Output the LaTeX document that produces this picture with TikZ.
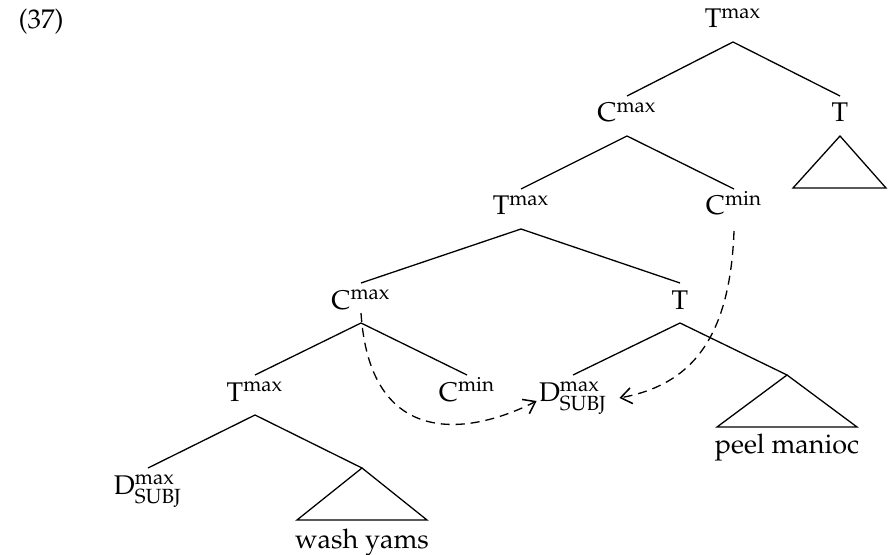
\documentclass[tikz,border=0pt]{standalone}
\usepackage[T1]{fontenc}
\usepackage{mathpazo}
\usetikzlibrary{arrows.meta,calc}
\begin{document}
\begin{tikzpicture}[x=0.5pt,y=-0.5pt,
  font=\fontsize{13.5}{16}\selectfont,
  lab/.style={anchor=base,inner sep=0pt},
  br/.style={line width=0.65pt},
  mv/.style={line width=0.65pt,dash pattern=on 4.5pt off 3pt,-{Straight Barb[length=5.5pt,width=8pt,line width=0.75pt]}}]
\useasboundingbox (0,0) rectangle (892,555);
\node[lab] (ex) at (41,29) {(37)};
% nodes
\node[lab] (n1)  at (733,28)  {$\mathrm{T}^{\mathrm{max}}$};
\node[lab] (n2a) at (627,122) {$\mathrm{C}^{\mathrm{max}}$};
\node[lab] (n2b) at (840,122) {T};
\node[lab] (n3a) at (521,215) {$\mathrm{T}^{\mathrm{max}}$};
\node[lab] (n3b) at (734,215) {$\mathrm{C}^{\mathrm{min}}$};
\node[lab] (n4a) at (361,309) {$\mathrm{C}^{\mathrm{max}}$};
\node[lab] (n4b) at (680,309) {T};
\node[lab] (n5a) at (255,401) {$\mathrm{T}^{\mathrm{max}}$};
\node[lab] (n5b) at (467,401) {$\mathrm{C}^{\mathrm{min}}$};
\node[lab] (n5c) at (573,401) {$\mathrm{D}^{\mathrm{max}}_{\mathrm{SUBJ}}$};
\node[lab] (n6a) at (148,494) {$\mathrm{D}^{\mathrm{max}}_{\mathrm{SUBJ}}$};
\coordinate (t5) at (787,375);
\coordinate (t6) at (362,468);
\node[lab] (pm) at (787,453) {peel manioc};
\node[lab] (wy) at (362,548) {wash yams};
% branches
\draw[br] ([yshift=13pt]n2a.base) -- ([yshift=-7pt]n1.base) -- ([yshift=13pt]n2b.base);
\draw[br] ([yshift=13pt]n3a.base) -- ([yshift=-7pt]n2a.base) -- ([yshift=13pt]n3b.base);
\draw[br] ([yshift=13pt]n4a.base) -- ([yshift=-7pt]n3a.base) -- ([yshift=13pt]n4b.base);
\draw[br] ([yshift=13pt]n5a.base) -- ([yshift=-7pt]n4a.base) -- ([yshift=13pt]n5b.base);
\draw[br] ([yshift=13pt]n5c.base) -- ([yshift=-7pt]n4b.base) -- (t5);
\draw[br] ([yshift=13pt]n6a.base) -- ([yshift=-7pt]n5a.base) -- (t6);
% triangles
\draw[br] ([yshift=-7pt]n2b.base) -- (793,188) -- (886,188) -- cycle;
\draw[br] (t5) -- (717,427) -- (857,427) -- cycle;
\draw[br] (t6) -- (297,520) -- (427,520) -- cycle;
% movement
\draw[mv] ([yshift=-2pt]n4a.base) .. controls (370,450) and (470,435) .. ([xshift=-1pt]n5c.base west);
\draw[mv] ([yshift=-8pt]n3b.base) .. controls (730,340) and (690,385) .. ([xshift=6pt]n5c.east);
\end{tikzpicture}
\end{document}
